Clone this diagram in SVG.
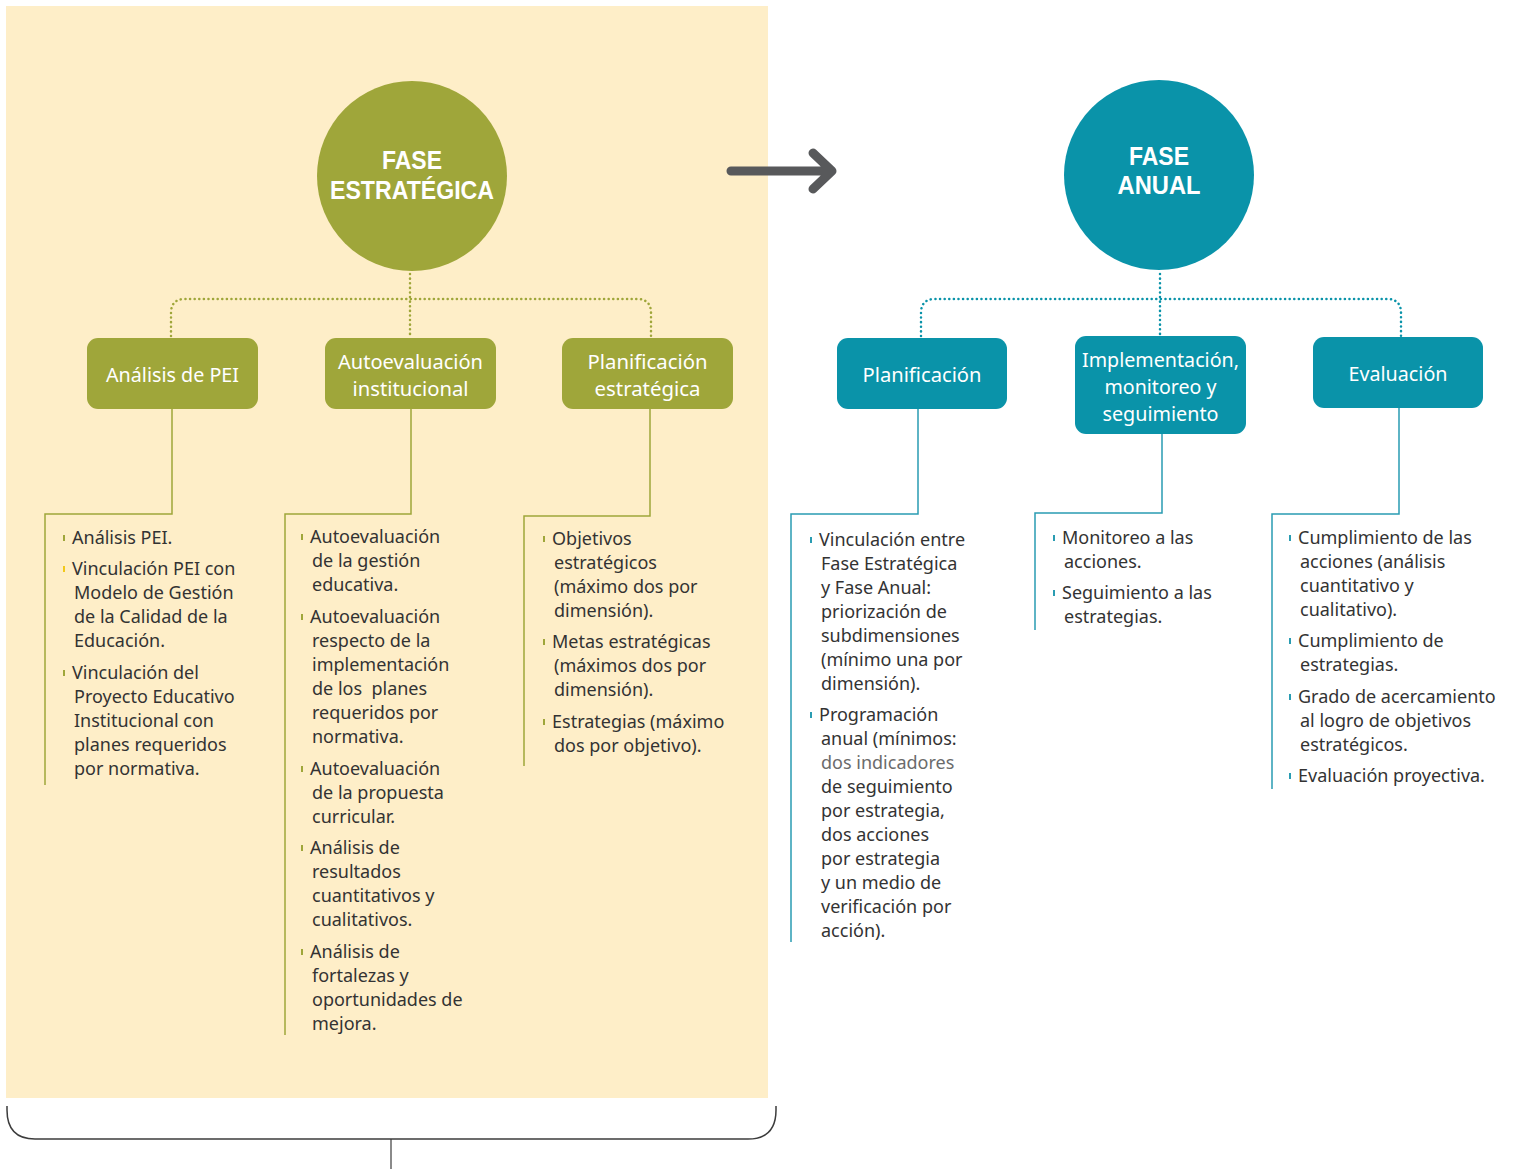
<svg xmlns="http://www.w3.org/2000/svg" width="1516" height="1169" viewBox="0 0 1516 1169">
<style>
.olive{fill:#9FA63A}
.teal{fill:#0A93A9}
.ct{font-family:"Liberation Sans","Noto Sans",sans-serif;font-weight:bold;font-size:25px;fill:#fff;text-anchor:middle}
.bt{font-family:"Noto Sans","Open Sans",sans-serif;font-size:20px;fill:#fff;text-anchor:middle}
.tx{font-family:"Noto Sans","Open Sans",sans-serif;font-size:18px;fill:#333}
.dot-o{fill:none;stroke:#9FA63A;stroke-width:2.5;stroke-dasharray:0.1 4.5;stroke-linecap:round}
.dot-t{fill:none;stroke:#0A93A9;stroke-width:2.5;stroke-dasharray:0.1 4.5;stroke-linecap:round}
.ln-o{fill:none;stroke:#9FA63A;stroke-width:1.5}
.ln-t{fill:none;stroke:#2A9CB2;stroke-width:1.5}
.bo{stroke:#9FA63A;stroke-width:2}
.by{stroke:#F2C81A;stroke-width:2}
.bl{stroke:#2A9CB2;stroke-width:2}
</style>
<rect x="6" y="6" width="762" height="1092" fill="#FEEEC8"/>

<g id="connectors">
  <path class="dot-o" d="M410 274 V336 M171 336 V313 Q171 299 185 299 H637 Q651 299 651 313 V336"/>
  <path class="dot-t" d="M1160 274 V335 M921 336 V313 Q921 299 935 299 H1387 Q1401 299 1401 313 V336"/>
  <path class="ln-o" d="M172 409 V514 H45 V785 M411 409 V514 H285 V1035 M650 409 V516 H524 V766"/>
  <path class="ln-t" d="M918 409 V514 H791 V942 M1162 434 V513 H1035 V630 M1399 408 V514 H1272 V789"/>
  <g id="arrow" fill="none" stroke="#58595B" stroke-width="9" stroke-linecap="round" stroke-linejoin="round">
    <path d="M731 171 H831 M813 153 L832 171 L813 189"/>
  </g>
  <path d="M7 1106 V1110 Q7 1139 35 1139 H748 Q776 1139 776 1110 V1106" fill="none" stroke="#3C3C3C" stroke-width="1.5"/>
  <path d="M391 1139 V1169" fill="none" stroke="#3C3C3C" stroke-width="1.2"/>
</g>

<g id="fase-estrategica">
  <circle class="olive" cx="412" cy="176" r="95"/>
  <text class="ct" x="412" y="169" textLength="60" lengthAdjust="spacingAndGlyphs">FASE</text>
  <text class="ct" x="412" y="199" textLength="164" lengthAdjust="spacingAndGlyphs">ESTRATÉGICA</text>
</g>
<g id="fase-anual">
  <circle class="teal" cx="1159" cy="175" r="95"/>
  <text class="ct" x="1159" y="165" textLength="60" lengthAdjust="spacingAndGlyphs">FASE</text>
  <text class="ct" x="1159" y="194" textLength="83" lengthAdjust="spacingAndGlyphs">ANUAL</text>
</g>

<g id="analisis-pei">
  <rect class="olive" x="87" y="338" width="171" height="71" rx="11"/>
  <text class="bt" x="172.5" y="382" textLength="133" lengthAdjust="spacingAndGlyphs">Análisis de PEI</text>
</g>
<g id="autoevaluacion">
  <rect class="olive" x="325" y="338" width="171" height="71" rx="11"/>
  <text class="bt" x="410.5" y="369" textLength="145" lengthAdjust="spacingAndGlyphs">Autoevaluación</text>
  <text class="bt" x="410.5" y="396" textLength="116" lengthAdjust="spacingAndGlyphs">institucional</text>
</g>
<g id="planificacion-estrategica">
  <rect class="olive" x="562" y="338" width="171" height="71" rx="11"/>
  <text class="bt" x="647.5" y="369" textLength="120" lengthAdjust="spacingAndGlyphs">Planificación</text>
  <text class="bt" x="647.5" y="396" textLength="106" lengthAdjust="spacingAndGlyphs">estratégica</text>
</g>
<g id="planificacion">
  <rect class="teal" x="837" y="338" width="170" height="71" rx="11"/>
  <text class="bt" x="922" y="382" textLength="119" lengthAdjust="spacingAndGlyphs">Planificación</text>
</g>
<g id="implementacion">
  <rect class="teal" x="1075" y="336" width="171" height="98" rx="11"/>
  <text class="bt" x="1160.5" y="367" textLength="157" lengthAdjust="spacingAndGlyphs">Implementación,</text>
  <text class="bt" x="1160.5" y="394" textLength="112" lengthAdjust="spacingAndGlyphs">monitoreo y</text>
  <text class="bt" x="1160.5" y="421" textLength="116" lengthAdjust="spacingAndGlyphs">seguimiento</text>
</g>
<g id="evaluacion">
  <rect class="teal" x="1313" y="337" width="170" height="71" rx="11"/>
  <text class="bt" x="1398" y="381" textLength="99" lengthAdjust="spacingAndGlyphs">Evaluación</text>
</g>

<g id="lista-analisis">
  <path class="bo" d="M64 535 V541 M64 670 V676"/>
  <path class="by" d="M64 566 V572"/>
  <text class="tx" x="72" y="544">Análisis PEI.</text>
  <text class="tx" x="72" y="575">Vinculación PEI con</text>
  <text class="tx" x="74" y="599">Modelo de Gestión</text>
  <text class="tx" x="74" y="623">de la Calidad de la</text>
  <text class="tx" x="74" y="647">Educación.</text>
  <text class="tx" x="72" y="679">Vinculación del</text>
  <text class="tx" x="74" y="703">Proyecto Educativo</text>
  <text class="tx" x="74" y="727">Institucional con</text>
  <text class="tx" x="74" y="751">planes requeridos</text>
  <text class="tx" x="74" y="775">por normativa.</text>
</g>

<g id="lista-autoevaluacion">
  <path class="bo" d="M302 534 V540 M302 614 V620 M302 766 V772 M302 845 V851 M302 949 V955"/>
  <text class="tx" x="310" y="543">Autoevaluación</text>
  <text class="tx" x="312" y="567">de la gestión</text>
  <text class="tx" x="312" y="591">educativa.</text>
  <text class="tx" x="310" y="623">Autoevaluación</text>
  <text class="tx" x="312" y="647">respecto de la</text>
  <text class="tx" x="312" y="671">implementación</text>
  <text class="tx" x="312" y="695" xml:space="preserve">de los  planes</text>
  <text class="tx" x="312" y="719">requeridos por</text>
  <text class="tx" x="312" y="743">normativa.</text>
  <text class="tx" x="310" y="775">Autoevaluación</text>
  <text class="tx" x="312" y="799">de la propuesta</text>
  <text class="tx" x="312" y="823">curricular.</text>
  <text class="tx" x="310" y="854">Análisis de</text>
  <text class="tx" x="312" y="878">resultados</text>
  <text class="tx" x="312" y="902">cuantitativos y</text>
  <text class="tx" x="312" y="926">cualitativos.</text>
  <text class="tx" x="310" y="958">Análisis de</text>
  <text class="tx" x="312" y="982">fortalezas y</text>
  <text class="tx" x="312" y="1006">oportunidades de</text>
  <text class="tx" x="312" y="1030">mejora.</text>
</g>

<g id="lista-planificacion-estrategica">
  <path class="bo" d="M544 536 V542 M544 639 V645 M544 719 V725"/>
  <text class="tx" x="552" y="545">Objetivos</text>
  <text class="tx" x="554" y="569">estratégicos</text>
  <text class="tx" x="554" y="593">(máximo dos por</text>
  <text class="tx" x="554" y="617">dimensión).</text>
  <text class="tx" x="552" y="648">Metas estratégicas</text>
  <text class="tx" x="554" y="672">(máximos dos por</text>
  <text class="tx" x="554" y="696">dimensión).</text>
  <text class="tx" x="552" y="728">Estrategias (máximo</text>
  <text class="tx" x="554" y="752">dos por objetivo).</text>
</g>

<g id="lista-planificacion">
  <path class="bl" d="M811 537 V543 M811 712 V718"/>
  <text class="tx" x="819" y="546">Vinculación entre</text>
  <text class="tx" x="821" y="570">Fase Estratégica</text>
  <text class="tx" x="821" y="594">y Fase Anual:</text>
  <text class="tx" x="821" y="618">priorización de</text>
  <text class="tx" x="821" y="642">subdimensiones</text>
  <text class="tx" x="821" y="666">(mínimo una por</text>
  <text class="tx" x="821" y="690">dimensión).</text>
  <text class="tx" x="819" y="721">Programación</text>
  <text class="tx" x="821" y="745">anual (mínimos:</text>
  <text class="tx" x="821" y="769" style="fill:#6B6B6B">dos indicadores</text>
  <text class="tx" x="821" y="793">de seguimiento</text>
  <text class="tx" x="821" y="817">por estrategia,</text>
  <text class="tx" x="821" y="841">dos acciones</text>
  <text class="tx" x="821" y="865">por estrategia</text>
  <text class="tx" x="821" y="889">y un medio de</text>
  <text class="tx" x="821" y="913">verificación por</text>
  <text class="tx" x="821" y="937">acción).</text>
</g>

<g id="lista-implementacion">
  <path class="bl" d="M1054 535 V541 M1054 590 V596"/>
  <text class="tx" x="1062" y="544">Monitoreo a las</text>
  <text class="tx" x="1064" y="568">acciones.</text>
  <text class="tx" x="1062" y="599">Seguimiento a las</text>
  <text class="tx" x="1064" y="623">estrategias.</text>
</g>

<g id="lista-evaluacion">
  <path class="bl" d="M1290 535 V541 M1290 638 V644 M1290 694 V700 M1290 773 V779"/>
  <text class="tx" x="1298" y="544">Cumplimiento de las</text>
  <text class="tx" x="1300" y="568">acciones (análisis</text>
  <text class="tx" x="1300" y="592">cuantitativo y</text>
  <text class="tx" x="1300" y="616">cualitativo).</text>
  <text class="tx" x="1298" y="647">Cumplimiento de</text>
  <text class="tx" x="1300" y="671">estrategias.</text>
  <text class="tx" x="1298" y="703">Grado de acercamiento</text>
  <text class="tx" x="1300" y="727">al logro de objetivos</text>
  <text class="tx" x="1300" y="751">estratégicos.</text>
  <text class="tx" x="1298" y="782">Evaluación proyectiva.</text>
</g>
</svg>
